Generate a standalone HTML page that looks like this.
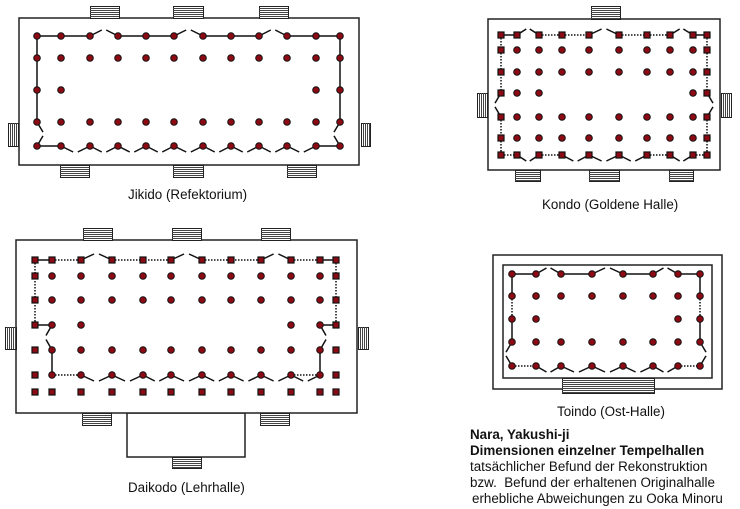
<!DOCTYPE html>
<html><head><meta charset="utf-8"><style>
html,body{margin:0;padding:0;background:#fff;width:740px;height:509px;overflow:hidden}
svg{position:absolute;left:0;top:0}
.t{position:absolute;font-family:"Liberation Sans","DejaVu Sans",sans-serif;font-size:13.4px;color:#111;white-space:nowrap;line-height:16px}
</style></head><body>
<svg id="s" width="740" height="509" xmlns="http://www.w3.org/2000/svg"></svg>
<div class="t" style="left:128px;top:187px">Jikido (Refektorium)</div>
<div class="t" style="left:542px;top:197px">Kondo (Goldene Halle)</div>
<div class="t" style="left:128px;top:480px">Daikodo (Lehrhalle)</div>
<div class="t" style="left:557px;top:404px">Toindo (Ost-Halle)</div>
<div class="t" style="left:470px;top:427px;font-weight:bold">Nara, Yakushi-ji</div>
<div class="t" style="left:470px;top:443px;font-weight:bold">Dimensionen einzelner Tempelhallen</div>
<div class="t" style="left:470px;top:459px">tatsächlicher Befund der Rekonstruktion</div>
<div class="t" style="left:470px;top:475px">bzw.&nbsp; Befund der erhaltenen Originalhalle</div>
<div class="t" style="left:472px;top:491px">erhebliche Abweichungen zu Ooka Minoru</div>
<script>
var h='';
function R(x1,y1,x2,y2,w){h+='<rect x="'+x1+'" y="'+y1+'" width="'+(x2-x1)+'" height="'+(y2-y1)+'" fill="#fff" stroke="#222" stroke-width="'+(w||1.5)+'"/>';}
function L(a,b,c,d,dash){h+='<line x1="'+a+'" y1="'+b+'" x2="'+c+'" y2="'+d+'" stroke="#111" stroke-width="1.5"'+(dash?' stroke-dasharray="1.5,1.5"':'')+'/>';}
function St(x1,y1,x2,y2,vert){h+='<rect x="'+(x1+0.5)+'" y="'+(y1+0.5)+'" width="'+(x2-x1)+'" height="'+(y2-y1)+'" fill="#fff" stroke="#222" stroke-width="1"/>';
 if(vert){for(var x=x1+2;x<x2;x+=2)h+='<line x1="'+(x+0.5)+'" y1="'+y1+'" x2="'+(x+0.5)+'" y2="'+y2+'" stroke="#444" stroke-width="1"/>';}
 else{for(var y=y1+2;y<y2;y+=2)h+='<line x1="'+x1+'" y1="'+(y+0.5)+'" x2="'+x2+'" y2="'+(y+0.5)+'" stroke="#444" stroke-width="1"/>';}}
function C(x,y){h+='<circle cx="'+x+'" cy="'+y+'" r="3.3" fill="#8b0a14" stroke="#111" stroke-width="1"/>';}
function Q(x,y){h+='<rect x="'+(x-3)+'" y="'+(y-3)+'" width="6" height="6" fill="#8b0a14" stroke="#111" stroke-width="1.2"/>';}
function D(x1,x2,y,dir){var d=x2-x1;L(x1,y,x1+0.42*d,y+dir*6);L(x1+0.58*d,y+dir*6,x2,y);}
function DV(x,y1,y2,dir){var d=y2-y1;L(x,y1,x+dir*6,y1+0.42*d);L(x+dir*6,y1+0.58*d,x,y2);}

// ---- Jikido
R(19,18,359,165);
St(90,6,119,18);St(173,6,203,18);St(259,6,288,18);
St(60,165,89,177);St(173,165,203,177);St(287,165,316,177);
St(8,123,18,146,1);St(361,123,370,146,1);
var jx=[37,61,90,118,146,174,203,231,259,287,316,340];
L(37,36,90,36);D(90,118,36,-1);L(118,36,174,36);D(174,203,36,-1);L(203,36,259,36);D(259,287,36,-1);L(287,36,340,36);
L(37,36,37,122);DV(37,122,146,1);L(340,36,340,122);DV(340,122,146,-1);
L(37,146,61,146);for(var i=1;i<10;i++)D(jx[i],jx[i+1],146,1);L(316,146,340,146);
jx.forEach(function(x){C(x,36);C(x,58);C(x,122);C(x,146);});
[37,61,316,340].forEach(function(x){C(x,90);});

// ---- Kondo
R(488,19,720,170);
St(591,6,620,19);St(515,170,540,181);St(589,170,619,181);St(669,170,693,181);
St(477,93,487,117,1);St(721,93,731,117,1);
var kx=[501,517,539,562,589,619,647,670,693,707];
L(501,35,517,35);D(517,539,35,-1);L(539,35,562,35,1);L(562,35,589,35,1);D(589,619,35,-1);L(619,35,647,35,1);L(647,35,670,35,1);D(670,693,35,-1);L(693,35,707,35);
L(501,35,501,93,1);DV(501,93,117,-1);L(501,117,501,155,1);
L(707,35,707,93,1);DV(707,93,117,1);L(707,117,707,155,1);
L(501,155,517,155,1);D(517,539,155,1);L(539,155,562,155,1);D(562,589,155,1);D(589,619,155,1);D(619,647,155,1);L(647,155,670,155,1);D(670,693,155,1);L(693,155,707,155,1);
kx.forEach(function(x){Q(x,35);Q(x,155);});
[50,72,93,117,138].forEach(function(y){Q(501,y);Q(707,y);});
[50,72,117,138].forEach(function(y){for(var i=1;i<9;i++)C(kx[i],y);});
[517,539,693].forEach(function(x){C(x,93);});

// ---- Daikodo
R(127,413,245,457);
R(16,240,357,413);
St(83,228,112,240);St(172,228,201,240);St(261,228,290,240);
St(82,413,111,425);St(260,413,289,425);St(172,457,201,468);
St(5,327,16,349,1);St(358,327,368,349,1);
var dx=[35,52,81,112,143,171,202,231,261,291,320,336];
L(35,260,52,260);L(52,260,81,260,1);D(81,112,260,-1);L(112,260,171,260,1);D(171,202,260,-1);L(202,260,261,260,1);D(261,291,260,-1);L(291,260,320,260,1);L(320,260,336,260);
L(35,260,35,325,1);L(35,325,52,325);DV(52,325,350,-1);L(52,350,52,375);
L(336,260,336,325,1);L(336,325,320,325);DV(320,325,350,1);L(320,350,320,375);
L(52,375,81,375,1);for(var i=2;i<10;i++)D(dx[i],dx[i+1],375,1);L(291,375,320,375,1);
dx.forEach(function(x){Q(x,260);Q(x,392);});
[276,300,325,350,375].forEach(function(y){Q(35,y);Q(336,y);});
[276,300,350,375].forEach(function(y){for(var i=1;i<11;i++)C(dx[i],y);});
[52,81,291,320].forEach(function(x){C(x,325);});

// ---- Toindo
R(493,255,722,389);R(503,265,712,378);
St(562,378,654,393);
var tx=[512,536,561,592,623,653,678,700];
L(512,274,536,274);D(536,561,274,-1);D(592,623,274,-1);L(561,274,592,274);L(623,274,653,274);D(653,678,274,-1);L(678,274,700,274);
L(512,274,512,296);L(512,296,512,319,1);L(512,319,512,342);DV(512,342,366,-1);
L(700,274,700,296);L(700,296,700,319,1);L(700,319,700,342);DV(700,342,366,1);
L(512,366,536,366,1);for(var i=1;i<6;i++)D(tx[i],tx[i+1],366,1);L(678,366,700,366,1);
tx.forEach(function(x){C(x,274);C(x,296);C(x,342);C(x,366);});
[512,536,678,700].forEach(function(x){C(x,319);});
document.getElementById('s').innerHTML=h;
</script>
</body></html>
